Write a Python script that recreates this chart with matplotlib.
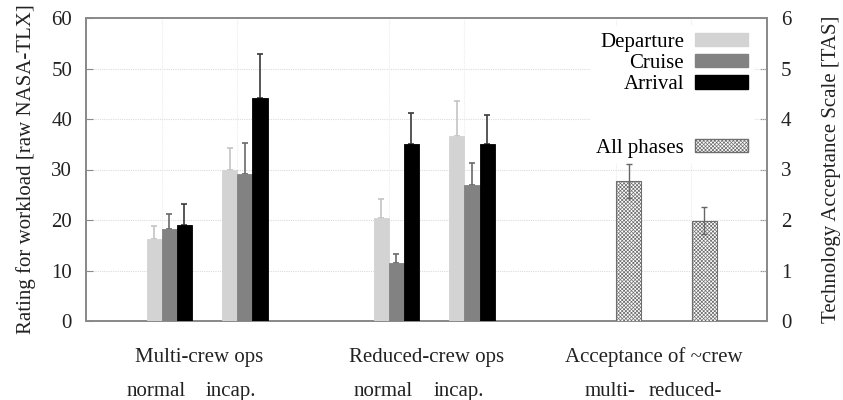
import numpy as np
import matplotlib
matplotlib.use("Agg")
import matplotlib.pyplot as plt
from matplotlib.patches import Patch

# NASA-TLX workload, per condition (left axis)
conditions = ["normal", "incap.", "normal", "incap."]
cond_pos = [1, 2, 4, 5]
departure = [16.3, 29.9, 20.4, 36.7]
departure_sd = [2.5, 4.4, 3.8, 6.8]
cruise = [18.2, 29.2, 11.4, 26.9]
cruise_sd = [3.0, 6.0, 1.9, 4.4]
arrival = [19.0, 44.1, 35.1, 35.1]
arrival_sd = [4.1, 8.8, 6.1, 5.7]

# technology acceptance (right axis)
tas_labels = ["multi-", "reduced-"]
tas_pos = [7, 8]
tas = [2.77, 1.99]
tas_sd = [0.34, 0.26]

group_labels = ["Multi-crew ops", "Reduced-crew ops", "Acceptance of ~crew"]
group_pos = [1.5, 4.5, 7.5]

plt.rcParams['font.family'] = ['Liberation Serif', 'DejaVu Serif']
plt.rcParams['font.size'] = 15
plt.rcParams['hatch.color'] = '#8c8c8c'
plt.rcParams['hatch.linewidth'] = 0.5

fig = plt.figure(figsize=(8.43, 4.0), dpi=100)
ax = fig.add_axes([0.102, 0.1975, 0.808, 0.7575])
ax2 = ax.twinx()

w = 0.2
x = np.array(cond_pos, dtype=float)
zeros = np.zeros(len(x))
series = [
    (departure, departure_sd, -0.1, '#d3d3d3', '#c4c4c4'),
    (cruise, cruise_sd, 0.1, '#828282', '#6a6a6a'),
    (arrival, arrival_sd, 0.3, '#000000', '#3a3a3a'),
]
for vals, sd, off, col, ecol in series:
    ax.bar(x + off, vals, w, color=col, edgecolor=col, linewidth=0.6, zorder=3)
    ax.errorbar(x + off, vals, yerr=[zeros, sd], fmt='none', ecolor=ecol,
                elinewidth=1.2, capsize=2.5, capthick=1.2, zorder=2)

# TAS bars drawn on the left axes (scale 6 -> 60) so they sit under the legend
hatch = 'xxxxxxxxx'
tx = np.array(tas_pos, dtype=float)
ax.bar(tx + 0.17, np.array(tas) * 10, 0.33, color='white', edgecolor='#6e6e6e',
       hatch=hatch, linewidth=0.8, zorder=3)
ax.errorbar(tx + 0.17, np.array(tas) * 10, yerr=np.array(tas_sd) * 10, fmt='none',
            ecolor='#666666', elinewidth=1.0, capsize=2.5, capthick=1.0, zorder=4)

ax.set_xlim(0, 9)
ax.set_ylim(0, 60)
ax.set_yticks(range(0, 61, 10))
ax2.set_ylim(0, 6)
ax2.set_yticks(range(0, 7))

# grid
for yv in range(10, 60, 10):
    ax.axhline(yv, color='#dcdcdc', lw=0.8, ls=(0, (1, 1)), zorder=0)
for xv in cond_pos + tas_pos:
    ax.axvline(xv, color='#ececec', lw=0.8, ls=(0, (1, 1)), zorder=0)

ax.set_xticks([])
for a in (ax, ax2):
    for s in a.spines.values():
        s.set_color('#8a8a8a')
        s.set_linewidth(1.3)
    a.tick_params(axis='y', direction='in', length=5, color='#8a8a8a',
                  labelcolor='#222222', pad=10)
ax.set_zorder(ax2.get_zorder() + 1)
ax.patch.set_visible(False)

ax.set_ylabel("Rating for workload [raw NASA-TLX]", color='#222222', labelpad=11)
ax2.set_ylabel("Technology Acceptance Scale [TAS]", color='#222222', labelpad=22)

trans = ax.get_xaxis_transform()
for gx, gl in zip(group_pos, group_labels):
    ax.text(gx, -0.12, gl, transform=trans, ha='center', va='center', color='#222222')
for cx, cl in zip(cond_pos + tas_pos, conditions + tas_labels):
    ax.text(cx - 0.08, -0.2, cl, transform=trans, ha='center', va='top', color='#222222')

# legend
blank = Patch(facecolor='none', edgecolor='none')
handles = [
    Patch(facecolor='#d3d3d3', edgecolor='#d3d3d3'),
    Patch(facecolor='#828282', edgecolor='#828282'),
    Patch(facecolor='black', edgecolor='black'),
    blank, blank,
    Patch(facecolor='white', edgecolor='#6e6e6e', hatch=hatch),
]
labels = ["Departure", "Cruise", "Arrival", " ", " ", "All phases"]
leg = ax.legend(handles, labels, loc='upper right', markerfirst=False,
                frameon=True, framealpha=1, edgecolor='none', facecolor='white',
                fancybox=False, handlelength=2.55, handleheight=0.63,
                labelspacing=0.1, handletextpad=0.55, borderaxespad=0.45,
                borderpad=0.25, bbox_to_anchor=(0.994, 1.0))
leg.set_zorder(10)

fig.savefig("out.png", dpi=100)
